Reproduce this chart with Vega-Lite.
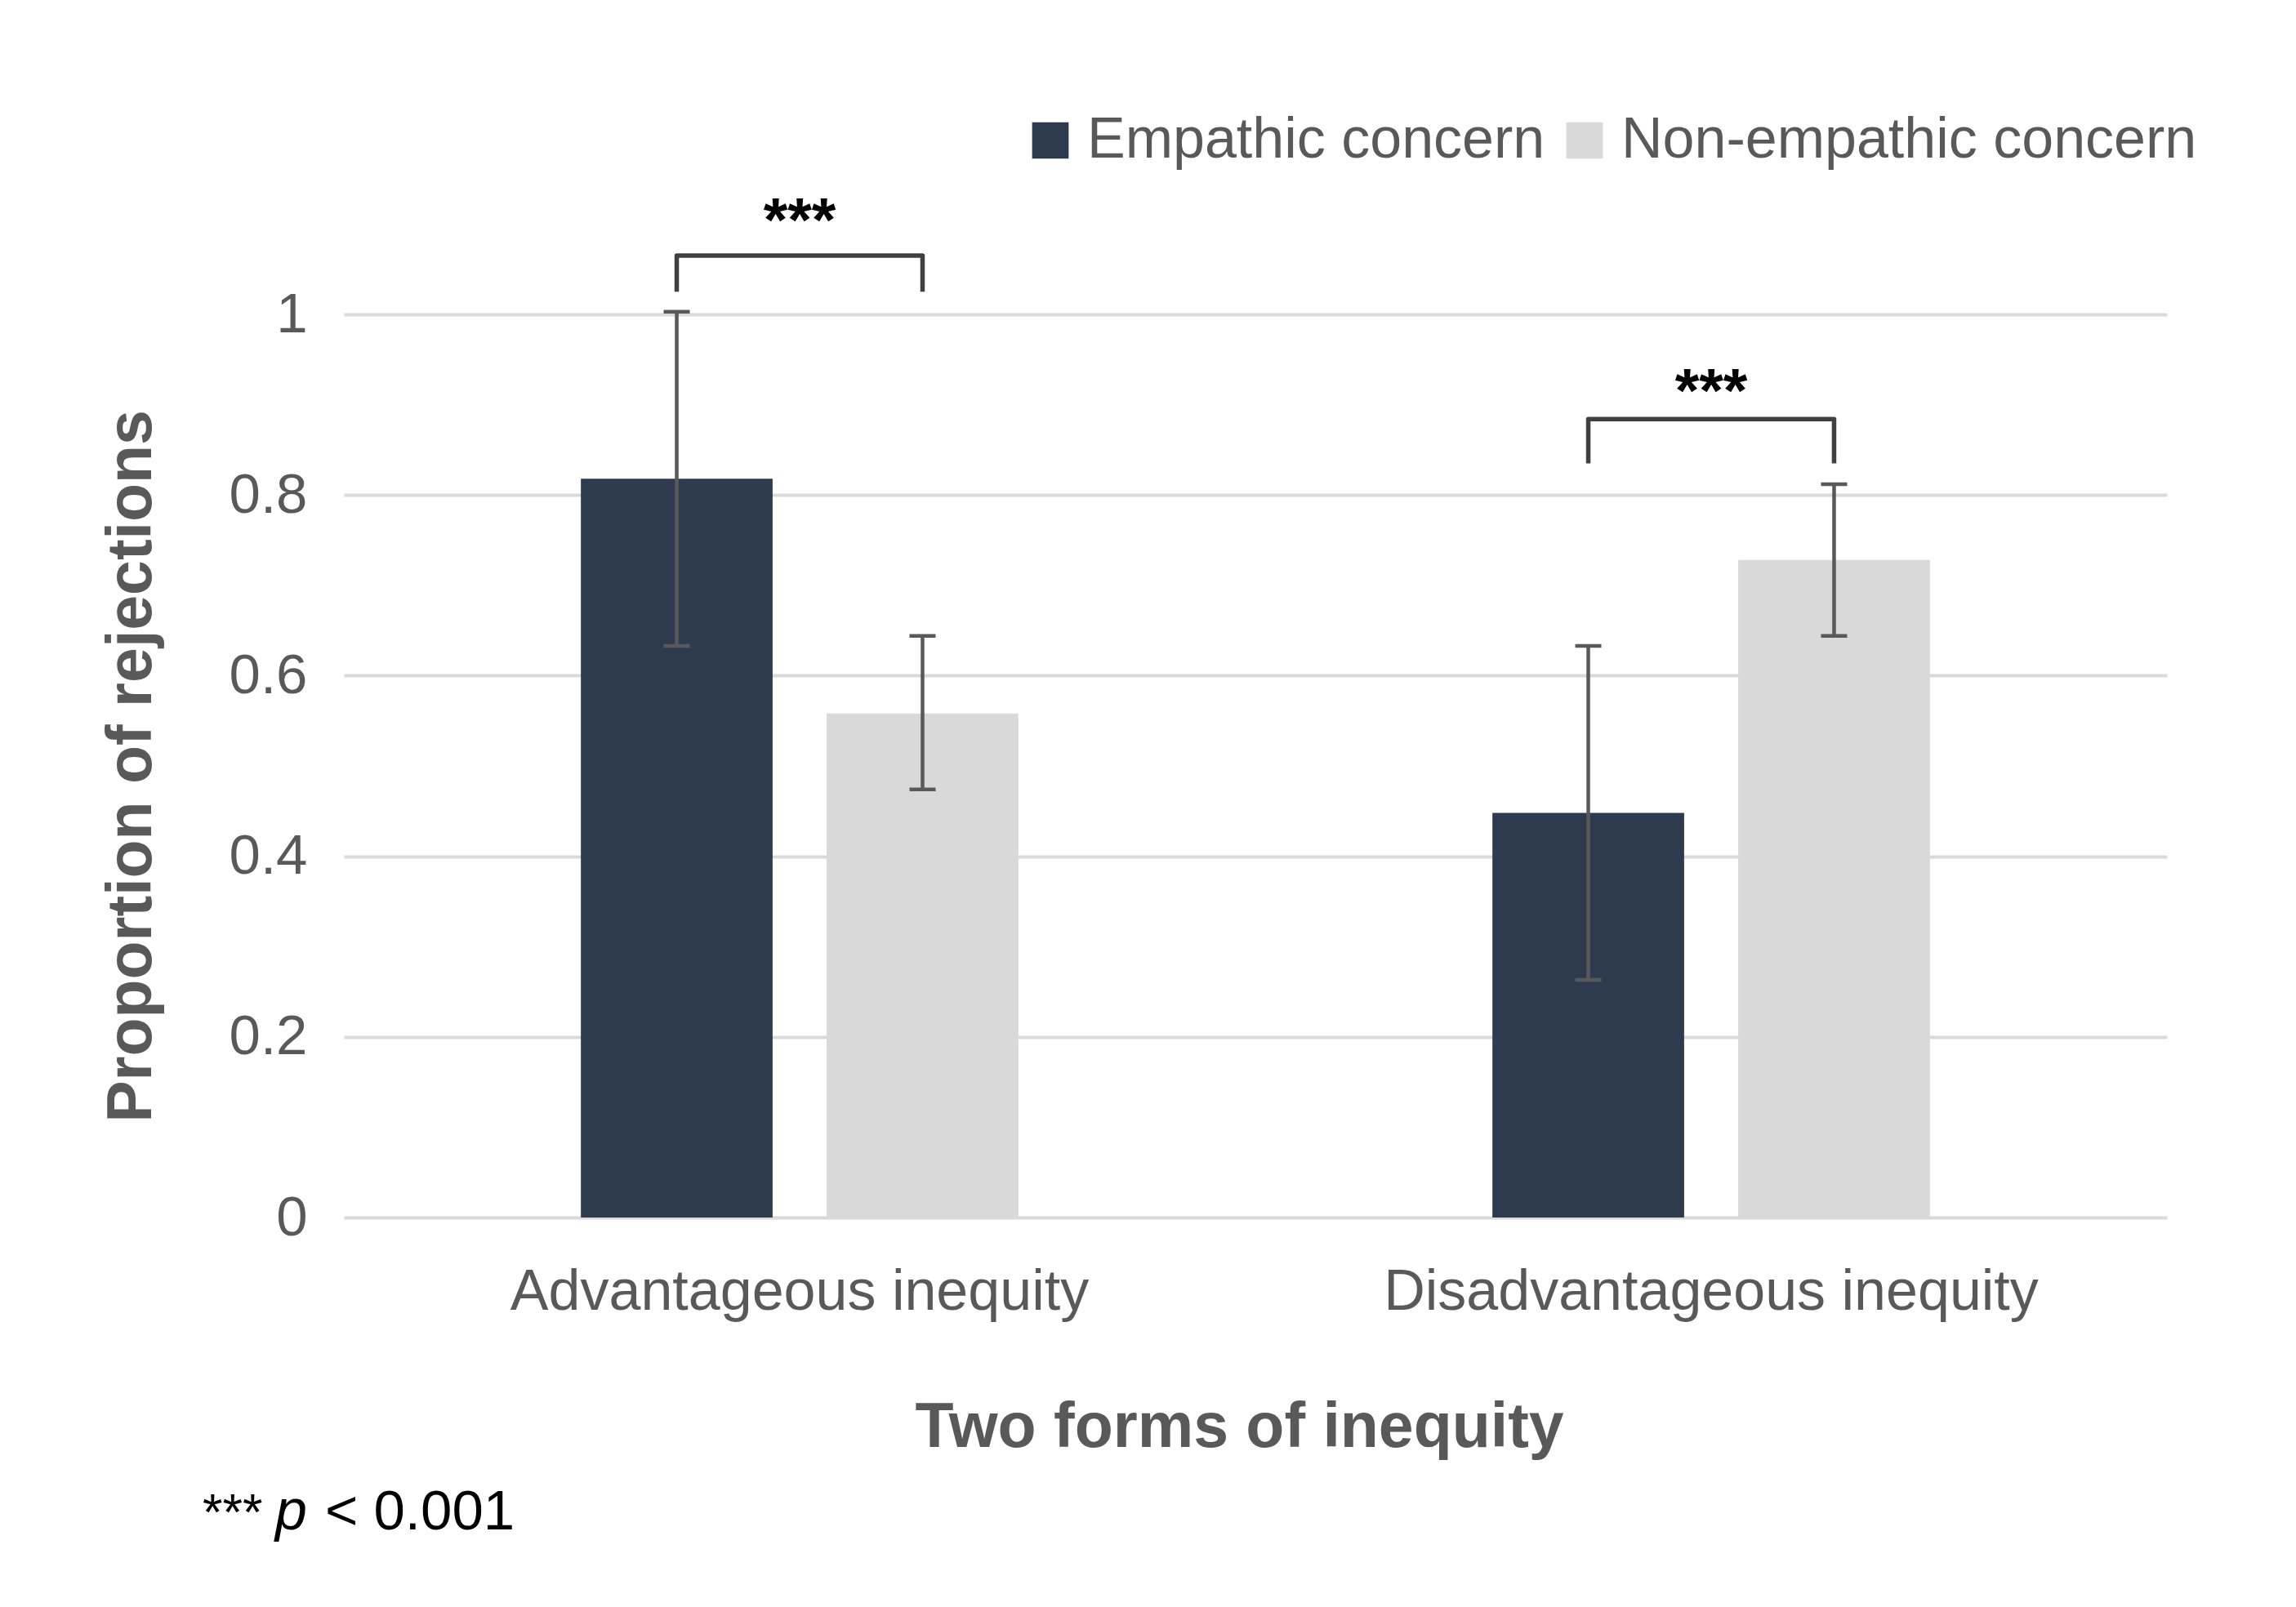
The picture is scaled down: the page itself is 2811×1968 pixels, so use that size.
{
  "$schema": "https://vega.github.io/schema/vega-lite/v6.json",
  "width": 2232,
  "height": 1106,
  "autosize": {"type": "none"},
  "padding": {"left": 421, "top": 385, "right": 158, "bottom": 477},
  "background": "white",
  "config": {
    "font": "Liberation Sans",
    "view": {"stroke": null},
    "axis": {"labelLimit": 1200, "titleLimit": 2000},
    "legend": {"labelLimit": 1200}
  },
  "datasets": {
    "bars": [
      {"inequity": "Advantageous inequity", "group": "Empathic concern", "value": 0.818, "lo": 0.633, "hi": 1.003},
      {"inequity": "Advantageous inequity", "group": "Non-empathic concern", "value": 0.558, "lo": 0.474, "hi": 0.644},
      {"inequity": "Disadvantageous inequity", "group": "Empathic concern", "value": 0.448, "lo": 0.263, "hi": 0.633},
      {"inequity": "Disadvantageous inequity", "group": "Non-empathic concern", "value": 0.728, "lo": 0.644, "hi": 0.812}
    ],
    "brackets": [
      {"inequity": "Advantageous inequity", "side": "left", "group": "Empathic concern", "y": 1.025, "k": 1},
      {"inequity": "Advantageous inequity", "side": "left", "group": "Empathic concern", "y": 1.065, "k": 2},
      {"inequity": "Advantageous inequity", "side": "right", "group": "Non-empathic concern", "y": 1.065, "k": 3},
      {"inequity": "Advantageous inequity", "side": "right", "group": "Non-empathic concern", "y": 1.025, "k": 4},
      {"inequity": "Disadvantageous inequity", "side": "left", "group": "Empathic concern", "y": 0.835, "k": 1},
      {"inequity": "Disadvantageous inequity", "side": "left", "group": "Empathic concern", "y": 0.884, "k": 2},
      {"inequity": "Disadvantageous inequity", "side": "right", "group": "Non-empathic concern", "y": 0.884, "k": 3},
      {"inequity": "Disadvantageous inequity", "side": "right", "group": "Non-empathic concern", "y": 0.835, "k": 4}
    ],
    "stars": [
      {"inequity": "Advantageous inequity", "y": 1.081, "label": "***"},
      {"inequity": "Disadvantageous inequity", "y": 0.892, "label": "***"}
    ]
  },
  "layer": [
    {
      "data": {"name": "bars"},
      "mark": {"type": "bar"},
      "encoding": {
        "x": {
          "field": "inequity", "type": "nominal",
          "scale": {"paddingInner": 0.52, "paddingOuter": 0.26},
          "axis": {
            "title": "Two forms of inequity",
            "labelAngle": 0, "ticks": false, "domain": false,
            "labelFontSize": 70, "labelColor": "#595959", "labelPadding": 57,
            "titleFontSize": 77, "titleFontWeight": "bold", "titleColor": "#595959", "titlePadding": 93,
            "titleX": 1096
          }
        },
        "xOffset": {"field": "group", "type": "nominal", "scale": {"paddingInner": 0.22, "paddingOuter": 0}},
        "y": {
          "field": "value", "type": "quantitative",
          "scale": {"domain": [0, 1], "nice": false},
          "axis": {
            "title": "Proportion of rejections",
            "values": [0, 0.2, 0.4, 0.6, 0.8, 1], "format": "~g",
            "domain": false, "ticks": false,
            "grid": true, "gridColor": "#D9D9D9", "gridWidth": 4,
            "labelFontSize": 69, "labelColor": "#595959", "labelPadding": 45,
            "titleFontSize": 77, "titleFontWeight": "bold", "titleColor": "#595959", "titlePadding": 80
          }
        },
        "color": {
          "field": "group", "type": "nominal",
          "scale": {"domain": ["Empathic concern", "Non-empathic concern"], "range": ["#2E3B4E", "#D9D9D9"]},
          "legend": {
            "title": null, "orient": "none", "direction": "horizontal",
            "legendX": 830, "legendY": -248,
            "labelFontSize": 70, "labelColor": "#595959",
            "symbolType": "square", "symbolSize": 2000, "symbolStrokeWidth": 0,
            "labelOffset": 10, "columnPadding": 13, "padding": 0
          }
        }
      }
    },
    {
      "data": {"name": "bars"},
      "mark": {"type": "rule", "color": "#595959", "strokeWidth": 4.5},
      "encoding": {
        "x": {"field": "inequity", "type": "nominal"},
        "xOffset": {"field": "group", "type": "nominal"},
        "y": {"field": "lo", "type": "quantitative"},
        "y2": {"field": "hi"}
      }
    },
    {
      "data": {"name": "bars"},
      "mark": {"type": "tick", "color": "#595959", "size": 32, "thickness": 4.5, "opacity": 1},
      "encoding": {
        "x": {"field": "inequity", "type": "nominal"},
        "xOffset": {"field": "group", "type": "nominal"},
        "y": {"field": "lo", "type": "quantitative"}
      }
    },
    {
      "data": {"name": "bars"},
      "mark": {"type": "tick", "color": "#595959", "size": 32, "thickness": 4.5, "opacity": 1},
      "encoding": {
        "x": {"field": "inequity", "type": "nominal"},
        "xOffset": {"field": "group", "type": "nominal"},
        "y": {"field": "hi", "type": "quantitative"}
      }
    },
    {
      "data": {"name": "brackets"},
      "mark": {"type": "line", "color": "#404040", "strokeWidth": 5.5, "strokeJoin": "round", "strokeCap": "butt"},
      "encoding": {
        "x": {"field": "inequity", "type": "nominal"},
        "xOffset": {"field": "group", "type": "nominal"},
        "y": {"field": "y", "type": "quantitative"},
        "detail": {"field": "inequity"},
        "order": {"field": "k", "type": "quantitative"}
      }
    },
    {
      "data": {"name": "stars"},
      "mark": {"type": "text", "fontSize": 76, "fontWeight": "bold", "color": "#000000", "baseline": "alphabetic", "align": "center"},
      "encoding": {
        "x": {"field": "inequity", "type": "nominal"},
        "y": {"field": "y", "type": "quantitative"},
        "text": {"field": "label"}
      }
    },
    {
      "data": {"values": [{}]},
      "mark": {"type": "text", "text": "***", "fontSize": 63, "color": "#000000", "baseline": "alphabetic", "align": "left", "dx": -731},
      "encoding": {
        "x": {"datum": "Advantageous inequity"},
        "y": {"datum": -0.3454}
      }
    },
    {
      "data": {"values": [{}]},
      "mark": {"type": "text", "text": "p", "fontSize": 70, "fontStyle": "italic", "color": "#000000", "baseline": "alphabetic", "align": "left", "dx": -642},
      "encoding": {
        "x": {"datum": "Advantageous inequity"},
        "y": {"datum": -0.3454}
      }
    },
    {
      "data": {"values": [{}]},
      "mark": {"type": "text", "text": "< 0.001", "fontSize": 69, "color": "#000000", "baseline": "alphabetic", "align": "left", "dx": -581},
      "encoding": {
        "x": {"datum": "Advantageous inequity"},
        "y": {"datum": -0.3454}
      }
    }
  ]
}
